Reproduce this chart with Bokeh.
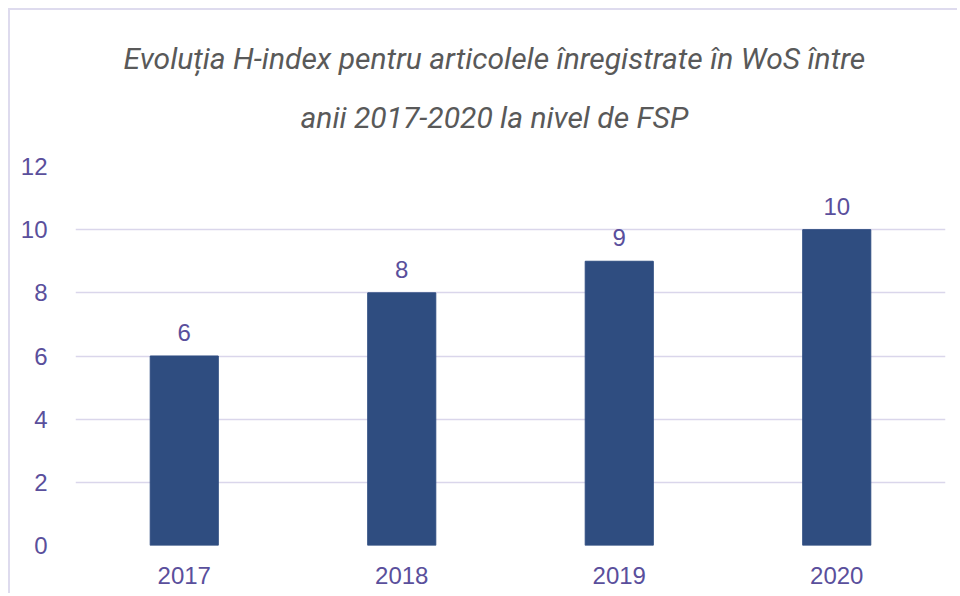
from bokeh.plotting import figure
from bokeh.models import ColumnDataSource, Title, LabelSet, FactorRange, Range1d, SingleIntervalTicker
from bokeh.core.properties import value
from bokeh.embed import file_html
from bokeh.resources import INLINE

years = ["2017", "2018", "2019", "2020"]
h_index = [6, 8, 9, 10]
title_line1 = "Evoluția H-index pentru articolele înregistrate în WoS între"
title_line2 = "anii 2017-2020 la nivel de FSP"

src = ColumnDataSource(dict(x=years, y=h_index, lab=[str(v) for v in h_index]))

p = figure(x_range=FactorRange(*years), y_range=Range1d(0, 12),
           width=949, height=585, output_backend="svg", toolbar_location=None,
           min_border_left=65, min_border_right=14, min_border_top=156, min_border_bottom=50)
p.styles = {"margin-left": "8px", "margin-top": "8px",
            "border-left": "2px solid #dedbee", "border-top": "2px solid #dedbee"}

p.vbar(x="x", top="y", width=0.313, source=src, color="#2F4D80")

labels = LabelSet(x="x", y="y", text="lab", source=src, text_align="center",
                  text_baseline="bottom", y_offset=15, text_color="#5A4F9C",
                  text_font=value("Liberation Sans"), text_font_size="24px")
p.add_layout(labels)

sub = Title(text=title_line2, align="left", offset=225, text_font="Roboto",
            text_font_style="italic", text_font_size="30px", text_color="#595959",
            standoff=63)
p.add_layout(sub, "above")
main = Title(text=title_line1, align="left", offset=48, text_font="Roboto",
             text_font_style="italic", text_font_size="30px", text_color="#595959",
             standoff=-18)
p.add_layout(main, "above")

p.outline_line_color = None
p.xgrid.grid_line_color = None
p.ygrid.grid_line_color = "#DAD6EB"
p.ygrid.grid_line_width = 1.5
p.yaxis.ticker = SingleIntervalTicker(interval=2)
for ax in (p.xaxis, p.yaxis):
    ax.axis_line_color = None
    ax.major_tick_line_color = None
    ax.minor_tick_line_color = None
    ax.major_label_text_color = "#5A4F9C"
    ax.major_label_text_font = "Liberation Sans"
    ax.major_label_text_font_size = "24px"
p.xaxis.major_label_standoff = 15
p.yaxis.major_label_standoff = 22
p.x_range.range_padding = 0
p.x_range.group_padding = 0

open("out.html", "w").write(file_html(p, INLINE))
